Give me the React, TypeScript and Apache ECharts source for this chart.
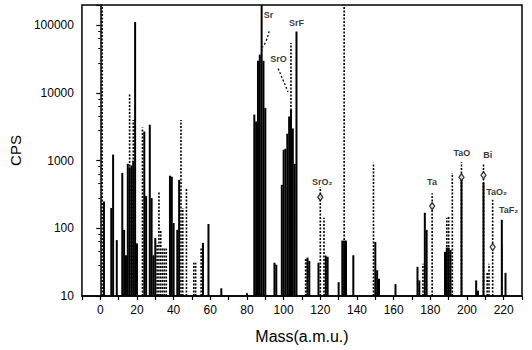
import React, { useEffect, useRef } from "react";
import * as echarts from "echarts";

// Solid-line spectrum (mass, counts per second)
const solidMass = [2, 6, 7, 9, 12, 13, 14, 15, 16, 17, 18, 19, 20, 24, 25, 27, 28, 29, 30, 38, 39, 40, 42, 43, 56, 59, 66, 80, 84, 85, 86, 87, 88, 89, 90, 95, 96, 99, 100, 101, 102, 103, 104, 105, 106, 107, 113, 114, 119, 123, 124, 130, 132, 133, 134, 138, 150, 151, 152, 161, 173, 174, 177, 178, 188, 189, 190, 191, 197, 205, 206, 209, 219, 221];
const solidCps = [250, 200, 1230, 67, 660, 95, 40, 900, 800, 850, 1000, 112000, 60, 2700, 300, 3400, 280, 40, 72, 600, 580, 120, 95, 520, 61, 116, 13, 11, 4800, 3800, 30000, 37000, 200000, 30000, 6000, 31, 29, 440, 1450, 1500, 2500, 4500, 5700, 3000, 900, 81000, 37, 33, 31, 38, 38, 16, 66, 66, 66, 40, 63, 24, 18, 15, 27, 17, 170, 95, 45, 52, 52, 48, 580, 17, 12, 470, 134, 22];

// Dotted-line spectrum
const dottedMass = [1, 16, 18, 23, 31, 32, 33, 34, 35, 36, 44, 45, 47, 51, 52, 55, 104, 112, 113, 120, 122, 123, 133, 149, 176, 181, 189, 190, 192, 197, 209, 211, 212, 214, 219];
const dottedCps = [200000, 9600, 4000, 3100, 60, 340, 95, 53, 53, 53, 4000, 200, 400, 31, 31, 53, 55000, 37, 35, 410, 143, 40, 200000, 935, 30, 330, 143, 150, 660, 950, 900, 23, 30, 265, 60];

// Diamond markers on labelled peaks
const diamondMass = [120, 181, 197, 209, 214];
const diamondCps = [289, 213, 570, 610, 53];

// Peak annotations
const labelText = ["Sr", "SrF", "SrO", "SrO\u2082", "Ta", "TaO", "Bi", "TaO\u2082", "TaF\u2082"];
const labelMass = [91.7, 107, 97.2, 121.1, 180.9, 197.2, 211.3, 216.2, 222.7];
const labelCps = [140000, 110000, 31500, 480, 480, 1290, 1200, 340, 186];

// Pointer lines from labels to peaks
const srPointerMass = [92.1, 90.1, 88.4];
const srPointerCps = [81500, 56000, 47300];
const sroPointerMass = [97.0, 102.4];
const sroPointerCps = [23000, 10400];

// Axis ticks
const xTickLabels = [0, 20, 40, 60, 80, 100, 120, 140, 160, 180, 200, 220];
const yTickLabels = [10, 100, 1000, 10000, 100000];

const FONT = "'Liberation Sans', Arial, sans-serif";

function peakSeries(name: string, mass: number[], cps: number[], dashed: boolean) {
  return {
    name,
    type: "custom",
    encode: { x: 0, y: 1 },
    data: mass.map((m, i) => [m, cps[i]]),
    renderItem: (_params: any, api: any) => {
      const x = api.value(0);
      const v = api.value(1);
      const p0 = api.coord([x, 10]);
      const p1 = api.coord([x, v]);
      return {
        type: "line",
        shape: { x1: p0[0], y1: p0[1], x2: p1[0], y2: p1[1] },
        style: {
          stroke: "#000",
          lineWidth: dashed ? 1.6 : 2,
          lineDash: dashed ? [2, 1.5] : null,
        },
      };
    },
    z: dashed ? 3 : 2,
  };
}

export default function App() {
  const ref = useRef<HTMLDivElement>(null);
  useEffect(() => {
    if (!ref.current) return;
    const chart = echarts.init(ref.current, null, { renderer: "svg" });
    const isPow10 = (v: number) => {
      const l = Math.log10(v);
      return Math.abs(l - Math.round(l)) < 1e-6;
    };
    chart.setOption({
      animation: false,
      backgroundColor: "#fff",
      textStyle: { fontFamily: FONT },
      grid: {
        left: 79,
        right: 10,
        top: 5,
        bottom: 54,
        show: true,
        borderColor: "#000",
        borderWidth: 1.5,
      },
      xAxis: {
        type: "value",
        min: -10,
        max: 230,
        interval: 10,
        splitLine: { show: false },
        axisLine: { lineStyle: { color: "#000", width: 1.5 } },
        axisTick: { length: 4, lineStyle: { color: "#000", width: 1.2 } },
        axisLabel: {
          color: "#000",
          fontSize: 12,
          fontFamily: FONT,
          margin: 8,
          formatter: (v: number) => (xTickLabels.indexOf(v) >= 0 ? String(v) : ""),
        },
        name: "Mass(a.m.u.)",
        nameLocation: "middle",
        nameGap: 32,
        nameTextStyle: { color: "#000", fontSize: 16, fontFamily: FONT },
      },
      yAxis: {
        type: "log",
        logBase: 10,
        min: 10,
        max: 200000,
        splitLine: { show: false },
        axisLine: { show: true, lineStyle: { color: "#000", width: 1.5 } },
        axisTick: { length: 4, lineStyle: { color: "#000", width: 1.2 } },
        minorTick: { show: true, splitNumber: 5, length: 2, lineStyle: { color: "#000" } },
        axisLabel: {
          color: "#000",
          fontSize: 12,
          fontFamily: FONT,
          margin: 8,
          formatter: (v: number) => {
            const r = Math.round(v);
            return isPow10(v) && yTickLabels.indexOf(r) >= 0 ? String(r) : "";
          },
        },
        name: "CPS",
        nameLocation: "middle",
        nameGap: 52,
        nameTextStyle: { color: "#000", fontSize: 15, fontFamily: FONT },
      },
      series: [
        peakSeries("solid", solidMass, solidCps, false),
        peakSeries("dotted", dottedMass, dottedCps, true),
        {
          name: "diamonds",
          type: "scatter",
          symbol: "diamond",
          symbolSize: [5, 7],
          itemStyle: { color: "#fff", borderColor: "#000", borderWidth: 1.3 },
          data: diamondMass.map((m, i) => [m, diamondCps[i]]),
          z: 5,
        },
        {
          name: "labels",
          type: "scatter",
          symbolSize: 0,
          data: labelMass.map((m, i) => ({ value: [m, labelCps[i]], name: labelText[i] })),
          label: {
            show: true,
            position: "inside",
            formatter: "{b}",
            color: "#000",
            fontSize: 9,
            fontWeight: "bold",
            fontFamily: FONT,
          },
          z: 6,
        },
        {
          name: "srPointer",
          type: "line",
          showSymbol: false,
          smooth: true,
          data: srPointerMass.map((m, i) => [m, srPointerCps[i]]),
          lineStyle: { color: "#000", width: 1.3, type: [2, 2] },
          z: 4,
        },
        {
          name: "sroPointer",
          type: "line",
          showSymbol: false,
          data: sroPointerMass.map((m, i) => [m, sroPointerCps[i]]),
          lineStyle: { color: "#000", width: 1.3, type: [2, 2] },
          z: 4,
        },
      ],
    });
    return () => chart.dispose();
  }, []);
  return (
    <div
      ref={ref}
      style={{ position: "fixed", left: 0, top: 0, width: 532, height: 350, background: "#fff" }}
    />
  );
}
